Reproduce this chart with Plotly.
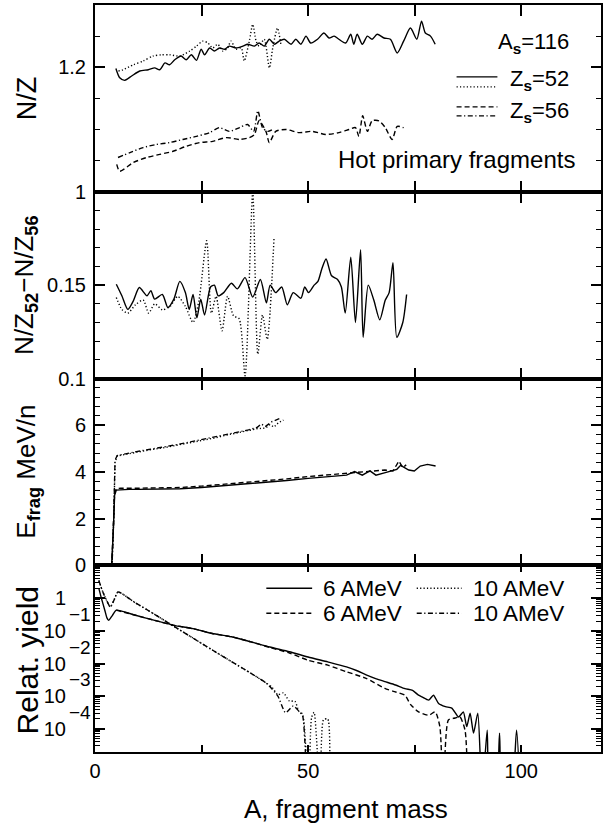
import plotly.graph_objects as go

# ---------------- data ----------------
# Panel 1: N/Z of hot primary fragments
nz52_6_A = [4.9, 5.8, 7.0, 8.6, 10.5, 12.5, 14.0, 15.2, 16.4, 17.5, 18.7, 20.2, 21.4, 22.6, 23.8, 24.9,
            25.7, 26.9, 28.0, 29.2, 30.4, 31.5, 33.1, 34.7, 35.8, 37.4, 38.5, 39.7, 40.9, 42.1, 43.2,
            44.4, 46.0, 47.1, 48.3, 49.5, 50.6, 52.2, 53.7, 54.9, 56.1, 57.2, 58.8, 60.0, 60.7, 61.5,
            62.7, 63.9, 65.0, 66.2, 67.8, 69.3, 70.9, 72.4, 74.0, 75.5, 76.6, 77.5, 78.7, 79.8]
nz52_6 = [1.198, 1.183, 1.179, 1.186, 1.194, 1.196, 1.199, 1.196, 1.207, 1.204, 1.212, 1.218, 1.212,
          1.220, 1.211, 1.229, 1.220, 1.231, 1.226, 1.231, 1.229, 1.234, 1.231, 1.234, 1.237, 1.234,
          1.239, 1.234, 1.245, 1.237, 1.242, 1.245, 1.237, 1.245, 1.237, 1.250, 1.239, 1.245, 1.255,
          1.247, 1.250, 1.245, 1.239, 1.253, 1.237, 1.253, 1.237, 1.250, 1.245, 1.253, 1.247, 1.245,
          1.223, 1.242, 1.263, 1.245, 1.274, 1.255, 1.250, 1.237]

nz52_10_A = [5.5, 6.6, 9.0, 11.3, 13.6, 15.6, 17.5, 19.9, 22.2, 23.8, 25.3, 26.5, 27.6, 28.8, 30.0,
             31.1, 31.9, 33.1, 34.3, 35.0, 36.2, 37.0, 37.8, 38.5, 39.7, 40.9, 41.7, 42.8, 43.6]
nz52_10 = [1.194, 1.196, 1.204, 1.210, 1.218, 1.220, 1.220, 1.218, 1.226, 1.234, 1.242, 1.239, 1.231,
           1.237, 1.226, 1.231, 1.242, 1.229, 1.231, 1.210, 1.242, 1.269, 1.242, 1.234, 1.245, 1.199,
           1.231, 1.263, 1.237]

nz56_6_A = [5.1, 5.8, 9.0, 12.1, 15.2, 18.3, 21.4, 24.5, 27.6, 30.8, 33.9, 36.2, 37.4, 38.5, 40.1,
            40.9, 42.4, 44.8, 47.9, 51.0, 54.1, 57.2, 59.6, 61.1, 61.9, 62.8, 63.9, 65.0, 66.6, 68.1,
            69.7, 70.9, 72.4]
nz56_6 = [1.044, 1.033, 1.047, 1.055, 1.060, 1.065, 1.073, 1.079, 1.081, 1.087, 1.084, 1.087, 1.092,
          1.114, 1.097, 1.079, 1.097, 1.100, 1.095, 1.097, 1.092, 1.095, 1.100, 1.103, 1.089, 1.122,
          1.097, 1.114, 1.114, 1.103, 1.084, 1.105, 1.103]

nz56_10_A = [5.4, 8.2, 11.3, 14.4, 17.5, 20.6, 23.8, 26.9, 29.2, 31.5, 33.9, 35.8, 37.2, 38.2, 39.3,
             40.5, 41.7]
nz56_10 = [1.055, 1.063, 1.071, 1.076, 1.079, 1.084, 1.089, 1.095, 1.103, 1.097, 1.103, 1.108, 1.097,
           1.130, 1.103, 1.097, 1.100]

# Panel 2: N/Z52 - N/Z56
dnz_6_A = [5.0, 6.3, 7.7, 9.0, 10.4, 12.2, 13.1, 14.0, 15.8, 17.1, 18.5, 19.9, 21.2, 22.1, 23.0, 23.9,
           24.8, 25.7, 27.1, 28.0, 28.9, 30.2, 32.0, 33.4, 35.2, 37.0, 38.8, 40.2, 41.1, 42.4, 43.8,
           45.1, 46.5, 48.3, 49.2, 50.1, 51.4, 52.3, 53.2, 54.2, 55.5, 56.9, 57.8, 58.7, 60.0, 61.1,
           62.3, 62.9, 64.1, 65.4, 66.8, 68.1, 69.0, 69.9, 70.8, 72.2, 73.1]
dnz_6 = [0.1505, 0.1443, 0.137, 0.1416, 0.1487, 0.1443, 0.147, 0.1425, 0.145, 0.138, 0.1425, 0.152,
         0.146, 0.137, 0.145, 0.1325, 0.1425, 0.134, 0.149, 0.150, 0.1443, 0.146, 0.151, 0.148, 0.154,
         0.1436, 0.153, 0.1405, 0.150, 0.146, 0.149, 0.1395, 0.146, 0.143, 0.149, 0.146, 0.150, 0.152,
         0.1586, 0.164, 0.155, 0.153, 0.149, 0.135, 0.165, 0.130, 0.169, 0.122, 0.150, 0.142, 0.1314,
         0.142, 0.146, 0.162, 0.122, 0.130, 0.145]

dnz_10_A = [5.0, 6.3, 7.7, 9.5, 11.3, 12.6, 14.0, 15.8, 17.6, 19.4, 21.2, 23.0, 24.4, 26.2, 27.3,
            28.4, 29.8, 31.1, 32.5, 33.8, 35.2, 37.0, 38.2, 39.3, 40.4, 42.0]
dnz_10 = [0.1434, 0.137, 0.135, 0.1395, 0.142, 0.135, 0.140, 0.1368, 0.1386, 0.144, 0.1386, 0.130,
          0.142, 0.1738, 0.135, 0.144, 0.1255, 0.144, 0.1336, 0.132, 0.1014, 0.1996, 0.113, 0.134,
          0.121, 0.1755]

# Panel 3: E_frag (MeV/n)
ef_6a_A = [0, 2, 3.9, 4.3, 4.6, 5.0, 6, 8, 10, 15, 20, 25, 30, 35, 40, 45, 50, 55, 57.3, 59,
           60.9, 62.7, 64.5, 65.9, 68.1, 70.8, 71.7, 73.6, 74.9, 76.3, 78.0, 79.9]
ef_6a = [0, 0, 0, 1.5, 3.0, 3.22, 3.24, 3.25, 3.25, 3.26, 3.28, 3.33, 3.40, 3.47, 3.55, 3.63, 3.72,
         3.80, 3.83, 3.86, 4.01, 3.86, 4.04, 3.86, 3.97, 4.11, 4.28, 4.08, 4.04, 4.25, 4.32, 4.25]

ef_6b_A = [0, 2, 3.9, 4.3, 4.6, 5.0, 6, 10, 15, 20, 25, 30, 35, 40, 45, 50, 55, 60, 63, 66, 68,
           69.9, 71.3, 72.2, 73.0]
ef_6b = [0, 0, 0, 1.6, 3.1, 3.28, 3.30, 3.30, 3.31, 3.33, 3.39, 3.46, 3.54, 3.62, 3.70, 3.80, 3.88,
         3.95, 4.02, 4.05, 4.08, 4.04, 4.46, 4.18, 4.30]

ef_10a_A = [0, 2, 4.0, 4.4, 4.7, 5.2, 7, 10, 13, 16, 19, 22, 25, 28, 31, 34, 36, 38, 40, 41, 42, 43, 44.2]
ef_10a = [0, 0, 0, 2.0, 4.4, 4.68, 4.75, 4.85, 4.95, 5.03, 5.13, 5.25, 5.35, 5.45, 5.58, 5.70, 5.75,
          5.85, 5.88, 6.02, 5.92, 6.10, 6.22]

ef_10b_A = [0, 2, 4.0, 4.4, 4.7, 5.2, 7, 10, 13, 16, 19, 22, 25, 28, 31, 34, 36, 38, 39, 40, 41.5, 43.5]
ef_10b = [0, 0, 0, 2.1, 4.5, 4.70, 4.78, 4.88, 4.97, 5.05, 5.16, 5.27, 5.38, 5.48, 5.62, 5.72, 5.80,
          5.90, 6.05, 5.95, 6.15, 6.30]

# Panel 4: relative yield (1e-6 = zero yield, below the plotted range)
y6a_A = [0.9, 1.5, 2.3, 2.8, 3.2, 4.1, 5.0, 9.5, 14, 18.5, 23, 27.5, 32, 36.6, 41, 45.6, 50, 54.6, 59,
         61.5, 63.6, 66, 68, 70.5, 72.7, 74.5, 75.9, 76.7, 78.3, 79.4, 80.6, 82.2, 83.7, 85.3, 86.4,
         87.2, 88.0, 88.8, 89.8, 90.8, 92.0, 92.7, 94.0, 94.9, 95.7, 97.5, 98.9, 99.7]
y6a = [2.0, 1.0, 0.43, 0.25, 0.21, 0.30, 0.43, 0.30, 0.21, 0.148, 0.117, 0.083, 0.066, 0.046, 0.032,
       0.023, 0.0158, 0.0112, 0.0079, 0.0060, 0.0045, 0.0034, 0.0028, 0.0022, 0.0017, 0.0015, 0.00107,
       0.00095, 0.00076, 0.00107, 0.0006, 0.00048, 0.00043, 0.00023, 0.00033, 0.000117, 0.0003,
       0.000074, 0.0003, 1e-6, 0.000091, 1e-6, 1e-6, 0.000074, 1e-6, 1e-6, 0.000091, 1e-6]

y6b_A = [5.0, 9.5, 14, 18.5, 23, 27.5, 32, 36.6, 41, 45.6, 50, 54.6, 59, 63.6, 68, 70, 72.7, 74.0,
         75.9, 78.3, 79.8, 80.9, 81.7, 82.9, 84.5, 85.6, 86.8, 87.5]
y6b = [0.43, 0.30, 0.21, 0.148, 0.117, 0.083, 0.066, 0.046, 0.031, 0.021, 0.0126, 0.0089, 0.0056,
       0.0035, 0.00174, 0.0014, 0.00107, 0.00056, 0.00033, 0.00026, 0.00033, 0.000117, 1e-6,
       0.000186, 0.000214, 0.000234, 0.000091, 1e-6]

y10a_A = [0.9, 1.8, 2.7, 3.6, 4.5, 5.4, 9.5, 14, 18.5, 23, 27.5, 32, 36.6, 40.2, 41.5, 42.9, 44.2,
          45.6, 46.9, 47.8, 48.7, 50.1, 50.8, 51.4, 52.8, 53.6, 54.6, 55.0]
y10a = [3.5, 1.6, 0.87, 0.54, 0.9, 1.55, 0.72, 0.32, 0.138, 0.060, 0.026, 0.0115, 0.005, 0.0025,
        0.0019, 0.0011, 0.00126, 0.00071, 0.0007, 0.00035, 0.00028, 1e-6, 0.00022, 0.00032, 1e-6,
        0.00019, 0.0002, 1e-6]

y10b_A = [0.9, 1.8, 2.7, 3.6, 4.5, 5.4, 9.5, 14, 18.5, 23, 27.5, 32, 36.6, 40.2, 42.9, 44.7, 46.5,
          47.8, 48.7, 49.2, 49.8]
y10b = [3.5, 1.6, 0.87, 0.54, 0.9, 1.55, 0.72, 0.32, 0.138, 0.060, 0.026, 0.0115, 0.005, 0.0025,
        0.001, 0.00031, 0.0005, 0.00035, 0.00025, 0.000047, 1e-6]

# tick labels
x_tickvals = [0, 25, 50, 75, 100]
x_ticktext = ["0", " ", "50", " ", "100"]
y1_ticks = [1, 1.2]
y2_ticks = [0.1, 0.15]
y3_ticks = [0, 2, 4, 6]
y4_ticks = [1e-4, 1e-3, 1e-2, 1e-1, 1]
y4_text = ["10", "10", "10", "10", "1"]
y4_exponents = ["−1", "−2", "−3", "−4"]

# ---------------- figure ----------------
FONT = "Liberation Sans"
W, H = 606, 829
L, R, T, B = 95, 3, 4, 77
PW, PH = W - L - R, H - T - B


def px(X):
    return (X - L) / PW


def py(Y):
    return (H - B - Y) / PH


SOLID = "solid"
DOT = "1.2px,2.2px"
DASH = "5px,3px"
DASHDOT = "5px,2.5px,1.2px,2.5px"
LW = 1.4

fig = go.Figure()


def add(xv, yv, k, dash, spline=True, smooth=0.7):
    fig.add_trace(go.Scatter(
        x=xv, y=yv, mode="lines", xaxis=f"x{k}", yaxis=f"y{k}",
        line=dict(color="black", width=LW, dash=dash,
                  shape="spline" if spline else "linear", smoothing=smooth),
        showlegend=False, hoverinfo="skip"))


add(nz52_6_A, nz52_6, 1, SOLID)
add(nz52_10_A, nz52_10, 1, DOT)
add(nz56_6_A, nz56_6, 1, DASH)
add(nz56_10_A, nz56_10, 1, DASHDOT)

add(dnz_6_A, dnz_6, 2, SOLID)
add(dnz_10_A, dnz_10, 2, DOT)

add(ef_6a_A, ef_6a, 3, SOLID, spline=False)
add(ef_6b_A, ef_6b, 3, DASH, spline=False)
add(ef_10a_A, ef_10a, 3, DOT, spline=False)
add(ef_10b_A, ef_10b, 3, DASHDOT, spline=False)

add(y6a_A, y6a, 4, SOLID, smooth=0.6)
add(y6b_A, y6b, 4, DASH, smooth=0.6)
add(y10a_A, y10a, 4, DOT, smooth=0.6)
add(y10b_A, y10b, 4, DASHDOT, smooth=0.6)

tickfont = dict(family=FONT, size=20, color="black")
domains = {1: [0.75, 1.0], 2: [0.5, 0.75], 3: [0.25, 0.5], 4: [0.0, 0.25]}

layout = dict(
    width=W, height=H, margin=dict(l=L, r=R, t=T, b=B),
    paper_bgcolor="white", plot_bgcolor="white",
    font=dict(family=FONT, color="black"),
)
for k in range(1, 5):
    xa = dict(
        domain=[0, 1], range=[0, 118.7], anchor=f"y{k}",
        showline=True, linewidth=2, linecolor="black", mirror="allticks",
        ticks="inside", ticklen=11 if k < 4 else 7, tickwidth=2, tickcolor="#000000",
        tickmode="array", tickvals=x_tickvals, showgrid=False, zeroline=False,
        showticklabels=(k == 4), tickfont=tickfont,
    )
    if k == 4:
        xa["ticktext"] = x_ticktext
    layout["xaxis" if k == 1 else f"xaxis{k}"] = xa

common_y = dict(showline=True, linewidth=2, linecolor="black", mirror="allticks",
                ticks="inside", ticklen=10, tickwidth=2, tickcolor="#000000",
                showgrid=False, zeroline=False, tickfont=tickfont, tickmode="array",
                ticklabelstandoff=3)

minor_style = dict(ticks="inside", ticklen=5, tickwidth=1, tickcolor="#000000")

layout["yaxis"] = dict(common_y, domain=domains[1], anchor="x", range=[1, 1.3],
                       tickvals=y1_ticks, ticktext=["1", "1.2"],
                       minor=dict(minor_style, tickvals=[1.05, 1.1, 1.15, 1.25]))
layout["yaxis2"] = dict(common_y, domain=domains[2], anchor="x2", range=[0.1, 0.2],
                        tickvals=y2_ticks, ticktext=["0.1", "0.15"],
                        minor=dict(minor_style, tickvals=[0.1 + 0.01 * i for i in range(1, 10)]))
layout["yaxis3"] = dict(common_y, domain=domains[3], anchor="x3", range=[0, 8],
                        tickvals=y3_ticks, ticktext=["0", "2", "4", "6"],
                        minor=dict(minor_style, tickvals=[0.4 * i for i in range(1, 20) if i % 5]))
layout["yaxis4"] = dict(common_y, domain=domains[4], anchor="x4", type="log",
                        range=[-4.71, 1.01], tickvals=y4_ticks, ticktext=y4_text,
                        ticklabelstandoff=23,
                        minor=dict(minor_style,
                                   tickvals=[m * 10 ** e for e in range(-5, 1) for m in range(2, 10)]))

annotations = []


def txt(text, X, Y, size=21, xanchor="left", angle=0, yanchor="middle"):
    annotations.append(dict(text=text, x=px(X), y=py(Y), xref="paper", yref="paper",
                            xanchor=xanchor, yanchor=yanchor, showarrow=False, textangle=angle,
                            font=dict(family=FONT, size=size, color="black")))


# exponents of the log tick labels
for i, e in enumerate(y4_exponents):
    annotations.append(dict(text=e, x=px(67), y=-(i + 0.5), xref="paper", yref="y4",
                            xanchor="left", yanchor="middle", showarrow=False,
                            font=dict(family=FONT, size=19, color="black")))

# y axis titles
txt("N/Z", 27, 97, size=27, xanchor="center", angle=-90)
txt("N/Z<sub><b>52</b></sub>−N/Z<sub><b>56</b></sub>", 25, 285, size=26, xanchor="center", angle=-90)
txt("E<sub><b>frag</b></sub> MeV/n", 27, 471, size=26, xanchor="center", angle=-90)
txt("Relat. yield", 27, 660, size=30, xanchor="center", angle=-90)
# x axis title
txt("A, fragment mass", 347, 809, size=26, xanchor="center")

# panel 1 texts
txt("A<sub><b>s</b></sub>=116", 573, 42, size=22, xanchor="right")
txt("Z<sub><b>s</b></sub>=52", 573, 79, size=22, xanchor="right")
txt("Z<sub><b>s</b></sub>=56", 573, 111, size=22, xanchor="right")
txt("Hot primary fragments", 579, 159, size=24, xanchor="right")

# panel 4 legend texts
txt("6 AMeV", 322, 588, size=22.5)
txt("6 AMeV", 322, 613, size=22.5)
txt("10 AMeV", 472, 588, size=22.5)
txt("10 AMeV", 472, 613, size=22.5)

shapes = []


def sample(X0, X1, Y, dash):
    shapes.append(dict(type="line", xref="paper", yref="paper", x0=px(X0), x1=px(X1),
                       y0=py(Y), y1=py(Y), line=dict(color="black", width=LW, dash=dash)))


sample(458, 499, 76, SOLID)
sample(458, 499, 86, DOT)
sample(458, 499, 106, DASH)
sample(458, 499, 115, DASHDOT)

sample(267, 313, 588, SOLID)
sample(267, 313, 613, DASH)
sample(418, 463, 588, DOT)
sample(418, 463, 613, DASHDOT)

layout["annotations"] = annotations
layout["shapes"] = shapes
fig.update_layout(**layout)

fig.write_html("out.html", config={"displayModeBar": False},
               post_script="document.body.style.margin='0';document.body.style.padding='0';")
